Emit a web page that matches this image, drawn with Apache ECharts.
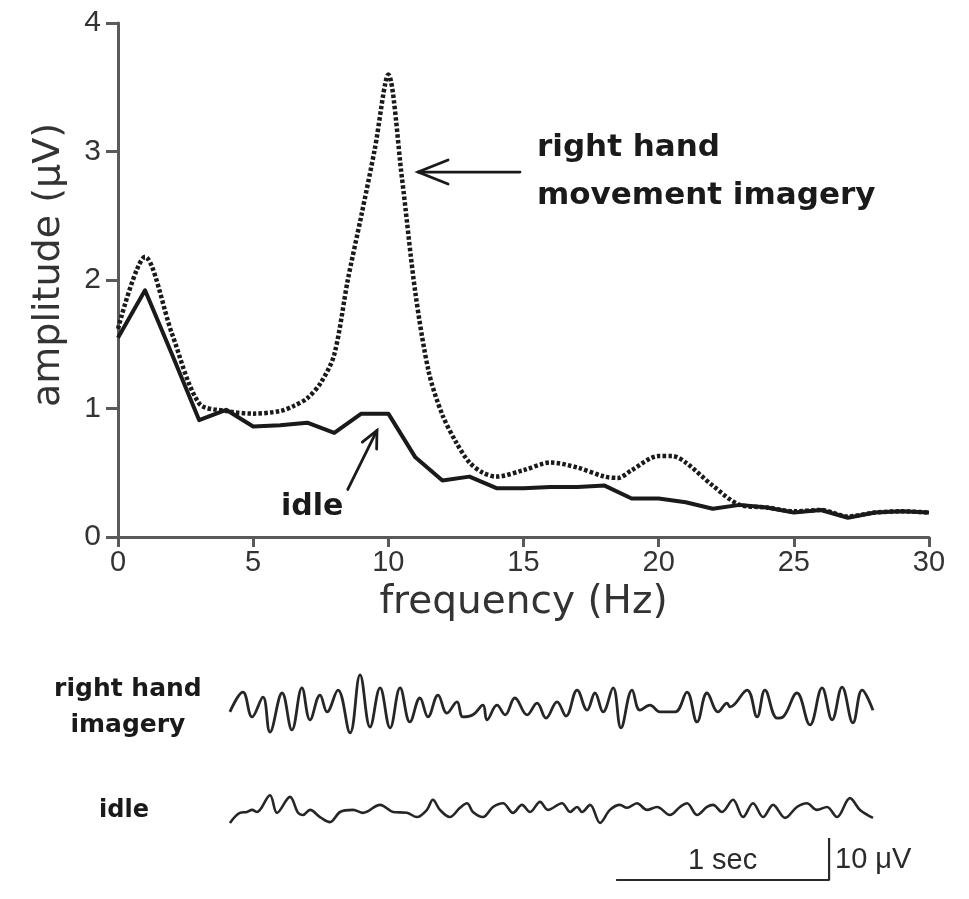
<!DOCTYPE html>
<html>
<head>
<meta charset="utf-8">
<script src="https://cdn.jsdelivr.net/npm/echarts@6/dist/echarts.min.js"></script>
<style>
  html, body { margin: 0; padding: 0; background: #ffffff; }
  #chart { width: 969px; height: 899px; }
</style>
</head>
<body>
<div id="chart"></div>
<script>
// Amplitude spectrum, idle condition (Hz, µV)
const idleFreq = [0,1,2,3,4,5,6,7,8,9,10,11,12,13,14,15,16,17,18,19,20,21,22,23,24,25,26,27,28,29,30];
const idleAmp  = [1.55,1.92,1.42,0.91,0.99,0.86,0.87,0.89,0.81,0.96,0.96,0.62,0.44,0.47,0.38,0.38,0.39,0.39,0.40,0.30,0.30,0.27,0.22,0.25,0.23,0.19,0.21,0.15,0.19,0.20,0.19];

// Amplitude spectrum, right hand movement imagery (Hz, µV)
const imageryFreq = [0,1,2,3,4,5,6,6.5,7,7.5,8,8.5,9,9.5,10,10.5,11,11.5,12,12.5,13,13.5,14,15,16,17,18,18.5,19,20,20.5,21,22,23,24,25,26,27,28,29,30];
const imageryAmp  = [1.62,2.18,1.58,1.04,0.98,0.96,0.98,1.02,1.08,1.2,1.42,2.0,2.5,3.02,3.6,2.8,1.9,1.28,0.95,0.74,0.58,0.5,0.47,0.52,0.58,0.54,0.47,0.46,0.52,0.63,0.63,0.58,0.40,0.25,0.23,0.20,0.21,0.16,0.19,0.20,0.19];

// Axis ticks
const freqTicks = [0,5,10,15,20,25,30];
const ampTicks = [0,1,2,3,4];

// Raw EEG, right hand imagery: time (ms), voltage (µV)
const imageryTraceT = [9,70,113,164,197,254,300,347,385,432,465,516,573,620,667,714,761,808,854,901,939,986,1028,1075,1103,1150,1197,1216,1263,1301,1347,1404,1451,1493,1545,1587,1639,1686,1723,1761,1808,1845,1897,1934,1981,2028,2099,2155,2202,2249,2301,2343,2357,2437,2484,2521,2578,2606,2671,2732,2789,2836,2883,2934,2977,3028];
const imageryTraceV = [-1.4,3.3,-2.6,2.1,-6.2,3.1,-5.7,4.3,-3.3,2.6,-1.4,3.8,-6.4,7.4,-5.0,4.3,-5.2,4.3,-3.8,1.9,-2.6,2.6,-1.7,1.0,-2.6,-2.1,0.2,-3.3,0.2,-2.1,1.9,-2.1,0.7,-2.9,1.0,-2.4,3.8,-1.0,3.1,-1.4,4.3,-5.2,3.8,-1.0,0.2,-1.4,-1.4,3.3,-3.8,3.1,-1.4,0.7,-0.2,3.8,-2.6,3.8,-2.9,-2.6,3.1,-4.5,4.3,-3.3,4.5,-4.0,3.8,-1.0];

// Raw EEG, idle: time (ms), voltage (µV)
const idleTraceT = [9,56,89,113,136,197,230,291,329,352,385,432,479,526,587,634,714,775,840,887,934,962,995,1042,1089,1122,1150,1197,1244,1291,1338,1380,1418,1465,1502,1568,1606,1639,1662,1700,1747,1793,1840,1873,1920,1967,2014,2075,2122,2155,2202,2249,2277,2319,2371,2418,2465,2512,2559,2615,2671,2718,2765,2812,2859,2920,2967,3028];
const idleTraceV = [-2.6,-0.2,0,0.5,0,4.0,-0.2,3.6,-0.2,-0.7,0.5,-1.2,-2.4,0,0.5,-0.2,1.7,0,-0.2,-1.2,0.5,2.9,0.5,-1.2,1.0,2.1,0,-1.2,1.2,2.1,-0.2,1.7,0,2.4,0.5,2.1,0,1.2,0,1.7,-2.6,0.5,1.7,1.0,2.1,0.5,1.2,-0.7,1.2,2.1,-0.7,1.2,1.7,0,2.9,-1.2,2.1,-1.2,1.7,-1.4,1.2,2.1,0.5,1.2,-1.2,3.3,0.5,-1.4];

// Calibration bar: 1 s horizontal, 10 µV vertical
const scaleBarT = [1822, 2822, 2822];
const scaleBarV = [0, 0, 10];

const zip = (xs, ys) => xs.map((x, i) => [x, ys[i]]);

const INK = '#1a1a1a';
const AXIS = '#5a5a5a';
const traceMs = 3200;        // visible trace window
const pxPerMs = 0.213;       // 1 s = 213 px
const traceWidth = traceMs * pxPerMs;

const chart = echarts.init(document.getElementById('chart'), null, { renderer: 'canvas' });

const hiddenAxis = (extra) => Object.assign({
  type: 'value', show: false, splitLine: { show: false }
}, extra);

chart.setOption({
  animation: false,
  backgroundColor: '#ffffff',
  grid: [
    { left: 118, top: 23, width: 811, height: 514 },
    { left: 228, top: 664, width: traceWidth, height: 84 },
    { left: 228, top: 770, width: traceWidth, height: 84 },
    { left: 228, top: 838, width: traceWidth, height: 42 }
  ],
  xAxis: [
    {
      gridIndex: 0, type: 'value',
      min: freqTicks[0], max: freqTicks[freqTicks.length - 1],
      interval: freqTicks[1] - freqTicks[0],
      name: 'frequency (Hz)', nameLocation: 'middle', nameGap: 46,
      nameTextStyle: { fontFamily: 'DejaVu Sans', fontSize: 39, color: '#333' },
      axisLine: { show: true, onZero: false, lineStyle: { color: AXIS, width: 3 } },
      axisTick: { show: true, length: 10, lineStyle: { color: AXIS, width: 3 } },
      axisLabel: { fontFamily: 'Liberation Sans', fontSize: 29, color: '#333', margin: 11 },
      splitLine: { show: false }
    },
    hiddenAxis({ gridIndex: 1, min: 0, max: traceMs }),
    hiddenAxis({ gridIndex: 2, min: 0, max: traceMs }),
    hiddenAxis({ gridIndex: 3, min: 0, max: traceMs })
  ],
  yAxis: [
    {
      gridIndex: 0, type: 'value',
      min: ampTicks[0], max: ampTicks[ampTicks.length - 1],
      interval: ampTicks[1] - ampTicks[0],
      name: 'amplitude (μV)', nameLocation: 'middle', nameGap: 50,
      nameTextStyle: { fontFamily: 'DejaVu Sans', fontSize: 38, color: '#333', padding: [0, 0, 0, 30] },
      axisLine: { show: true, onZero: false, lineStyle: { color: AXIS, width: 3 } },
      axisTick: { show: true, length: 12, lineStyle: { color: AXIS, width: 3 } },
      axisLabel: { fontFamily: 'Liberation Sans', fontSize: 30, color: '#333', margin: 17 },
      splitLine: { show: false }
    },
    hiddenAxis({ gridIndex: 1, min: -10, max: 10 }),
    hiddenAxis({ gridIndex: 2, min: -10, max: 10 }),
    hiddenAxis({ gridIndex: 3, min: 0, max: 10 })
  ],
  series: [
    {
      name: 'right hand movement imagery', type: 'line',
      xAxisIndex: 0, yAxisIndex: 0,
      data: zip(imageryFreq, imageryAmp),
      smooth: 0.3,
      symbol: 'none',
      lineStyle: { color: INK, width: 4.5, type: [3.5, 2.2], cap: 'butt' },
      z: 3
    },
    {
      name: 'idle', type: 'line',
      xAxisIndex: 0, yAxisIndex: 0,
      data: zip(idleFreq, idleAmp),
      symbol: 'none',
      lineStyle: { color: INK, width: 4, join: 'round' },
      z: 4
    },
    {
      name: 'right hand imagery EEG', type: 'line',
      xAxisIndex: 1, yAxisIndex: 1,
      data: zip(imageryTraceT, imageryTraceV),
      smooth: 0.4, symbol: 'none', clip: false,
      lineStyle: { color: '#262626', width: 2.8 }
    },
    {
      name: 'idle EEG', type: 'line',
      xAxisIndex: 2, yAxisIndex: 2,
      data: zip(idleTraceT, idleTraceV),
      smooth: 0.35, symbol: 'none', clip: false,
      lineStyle: { color: '#262626', width: 2.6 }
    },
    {
      name: 'calibration', type: 'line',
      xAxisIndex: 3, yAxisIndex: 3,
      data: zip(scaleBarT, scaleBarV),
      symbol: 'none', clip: false,
      lineStyle: { color: '#2a2a2a', width: 2.2 }
    }
  ]
});

// Annotations placed in data space of each panel
const px = (grid, p) => chart.convertToPixel({ gridIndex: grid }, p);

function arrow(tail, tip, headLen, headHalf, width) {
  const dx = tip[0] - tail[0], dy = tip[1] - tail[1];
  const len = Math.hypot(dx, dy);
  const ux = dx / len, uy = dy / len;
  const bx = tip[0] - ux * headLen, by = tip[1] - uy * headLen;
  const nx = -uy, ny = ux;
  const style = { stroke: INK, lineWidth: width, fill: null, lineCap: 'round', lineJoin: 'miter' };
  return [
    { type: 'polyline', shape: { points: [tail, tip] }, style },
    { type: 'polyline', shape: { points: [[bx + nx * headHalf, by + ny * headHalf], tip, [bx - nx * headHalf, by - ny * headHalf]] }, style }
  ];
}

const boldFont = 'DejaVu Sans';
const mainTipR = px(0, [11.1, 2.84]);
const mainTailR = px(0, [14.87, 2.84]);
const labelR = px(0, [15.5, 2.84]);
const idleTip = px(0, [9.58, 0.83]);
const idleTail = px(0, [8.5, 0.37]);
const idleLabel = px(0, [7.18, 0.23]);
const imgTraceLabel = px(1, [-470, -0.4]);
const idleTraceLabel = px(2, [-488, 0.3]);
const secLabel = px(3, [2322, 1]);
const uvLabel = px(3, [2850, 4.8]);

chart.setOption({
  graphic: [
    ...arrow(mainTailR, mainTipR, 30, 12, 2.8),
    ...arrow(idleTail, idleTip, 17, 8, 2.8),
    {
      type: 'text', x: labelR[0], y: labelR[1],
      style: { text: 'right hand\nmovement imagery', fontFamily: boldFont, fontWeight: 'bold',
               fontSize: 31, lineHeight: 48, fill: INK, align: 'left', verticalAlign: 'middle' }
    },
    {
      type: 'text', x: idleLabel[0], y: idleLabel[1],
      style: { text: 'idle', fontFamily: boldFont, fontWeight: 'bold', fontSize: 30,
               fill: INK, align: 'center', verticalAlign: 'middle' }
    },
    {
      type: 'text', x: imgTraceLabel[0], y: imgTraceLabel[1],
      style: { text: 'right hand\nimagery', fontFamily: boldFont, fontWeight: 'bold', fontSize: 25,
               lineHeight: 36, fill: INK, align: 'center', verticalAlign: 'middle' }
    },
    {
      type: 'text', x: idleTraceLabel[0], y: idleTraceLabel[1],
      style: { text: 'idle', fontFamily: boldFont, fontWeight: 'bold', fontSize: 24,
               fill: INK, align: 'center', verticalAlign: 'middle' }
    },
    {
      type: 'text', x: secLabel[0], y: secLabel[1],
      style: { text: '1 sec', fontFamily: 'Liberation Sans', fontSize: 29,
               fill: '#2a2a2a', align: 'center', verticalAlign: 'bottom' }
    },
    {
      type: 'text', x: uvLabel[0], y: uvLabel[1],
      style: { text: '10 μV', fontFamily: 'Liberation Sans', fontSize: 29,
               fill: '#2a2a2a', align: 'left', verticalAlign: 'middle' }
    }
  ]
});
</script>
</body>
</html>
